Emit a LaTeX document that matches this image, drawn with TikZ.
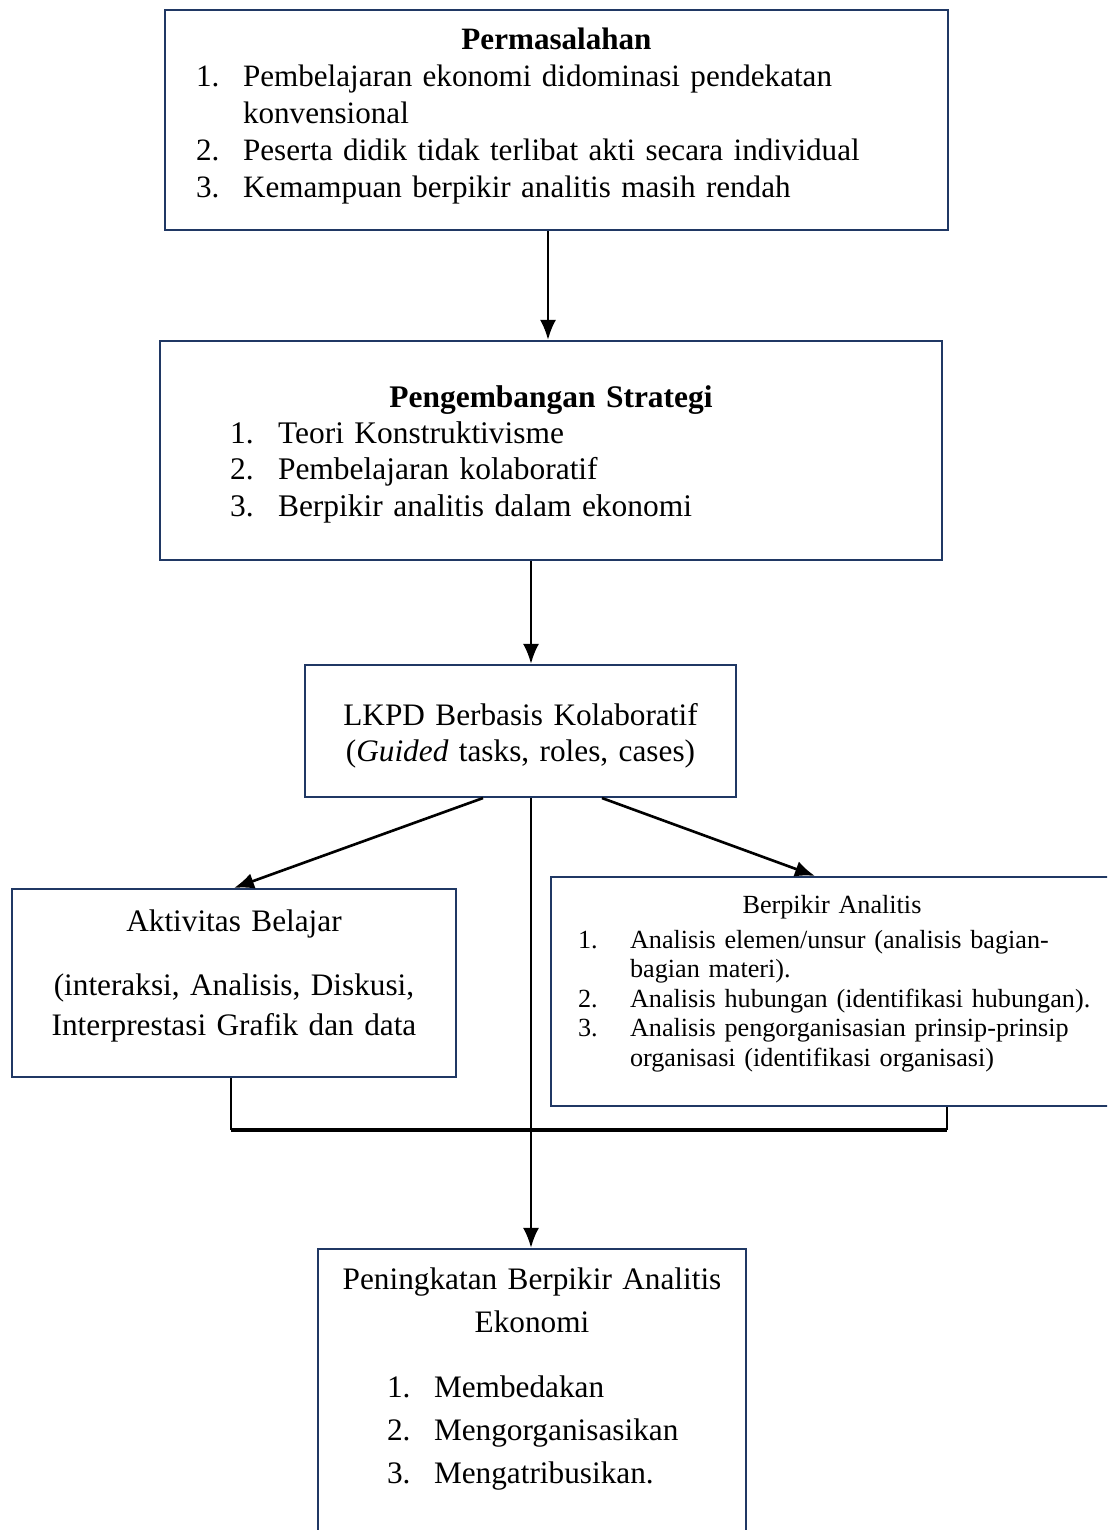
\documentclass[tikz,border=0pt]{standalone}
\usepackage{fontspec}
\setmainfont{Liberation Serif}
\usepackage{xcolor}
\usetikzlibrary{arrows.meta,positioning,calc}
\definecolor{boxblue}{HTML}{203864}

\begin{document}
\begin{tikzpicture}[x=0.02cm,y=-0.02cm,
    box/.style={draw=boxblue, line width=1.2pt, rectangle, inner ysep=0pt, anchor=base},
    arr/.style={-{Latex[length=4mm,width=3.2mm]}, line width=1.5pt},
    link/.style={line width=1.5pt},
    bar/.style={line width=2.6pt}]
    \useasboundingbox (0,0) rectangle (1107,1530);
    \clip (0,0) rectangle (1107,1530);

    % boxes
    \node[box, text width=14.42cm, inner xsep=0.62cm, align=left, text height=0.8cm, text depth=3.6cm,
          font=\fontsize{17.7}{21}\selectfont] (masalah) at (556.5,50)
        {\makebox[\hsize]{\textbf{Permasalahan}}\\
         \makebox[0.94cm][l]{1.}Pembelajaran ekonomi didominasi pendekatan\\
         \hspace*{0.94cm}konvensional\\
         \makebox[0.94cm][l]{2.}Peserta didik tidak terlibat akti secara individual\\
         \makebox[0.94cm][l]{3.}Kemampuan berpikir analitis masih rendah};
    \node[box, text width=12.84cm, inner xsep=1.4cm, align=left, text height=1.32cm, text depth=3.06cm,
          font=\fontsize{17.9}{20.7}\selectfont] (strategi) at (551,407)
        {\makebox[\hsize]{\textbf{Pengembangan Strategi}}\\
         \makebox[0.96cm][l]{1.}Teori Konstruktivisme\\
         \makebox[0.96cm][l]{2.}Pembelajaran kolaboratif\\
         \makebox[0.96cm][l]{3.}Berpikir analitis dalam ekonomi};
    \node[box, text width=8.02cm, inner xsep=0.3cm, align=center, text height=1.2cm, text depth=1.44cm,
          font=\fontsize{17.8}{20.5}\selectfont] (lkpd) at (520.5,725)
        {LKPD Berbasis Kolaboratif\\(\textit{Guided} tasks, roles, cases)};
    \node[box, text width=8.28cm, inner xsep=0.3cm, align=center, text height=0.84cm, text depth=2.92cm,
          font=\fontsize{17.8}{22.8}\selectfont] (aktivitas) at (234,931)
        {Aktivitas Belajar\\[0.48cm]
         (interaksi, Analisis, Diskusi,\\Interprestasi Grafik dan data};
    \node[box, text width=10.16cm, inner xsep=0.54cm, align=left, text height=0.72cm, text depth=3.86cm,
          font=\fontsize{14.9}{16.8}\selectfont] (analitis) at (832,913)
        {\makebox[\hsize]{Berpikir Analitis}\\[0.11cm]
         \makebox[1.04cm][l]{1.}\mbox{Analisis elemen/unsur (analisis bagian-}\\
         \hspace*{1.04cm}bagian materi).\\
         \makebox[1.04cm][l]{2.}\mbox{Analisis hubungan (identifikasi hubungan).}\\
         \makebox[1.04cm][l]{3.}\mbox{Analisis pengorganisasian prinsip-prinsip}\\
         \hspace*{1.04cm}\mbox{organisasi (identifikasi organisasi)}};
    \node[box, text width=5.8cm, inner xsep=1.38cm, align=left, text height=0.8cm, text depth=5.12cm,
          font=\fontsize{17.8}{24.5}\selectfont] (peningkatan) at (532,1289)
        {\makebox[\hsize]{Peningkatan Berpikir Analitis}\\
         \makebox[\hsize]{Ekonomi}\\[0.44cm]
         \makebox[0.94cm][l]{1.}Membedakan\\
         \makebox[0.94cm][l]{2.}Mengorganisasikan\\
         \makebox[0.94cm][l]{3.}Mengatribusikan.};

    \coordinate (spine) at ([xshift=0.21cm]lkpd.north);
    \coordinate (merge) at (531,1130);

    % connectors
    \draw[arr] ([xshift=-0.17cm]masalah.south) -- ([xshift=-0.17cm]masalah.south |- strategi.north);
    \draw[arr] (strategi.south -| spine) -- (spine);
    \draw[arr] ([xshift=-0.75cm]lkpd.south) -- (aktivitas.north);
    \draw[arr] ([xshift=1.63cm]lkpd.south) -- ([xshift=-0.34cm]analitis.north);
    \draw[link] ([xshift=-0.06cm]aktivitas.south) -- ([xshift=-0.06cm]aktivitas.south |- merge);
    \draw[link] ([xshift=2.3cm]analitis.south) -- ([xshift=2.3cm]analitis.south |- merge);
    \draw[bar] ([xshift=-0.06cm]aktivitas.south |- merge) -- ([xshift=2.3cm]analitis.south |- merge);
    \draw[arr] (lkpd.south -| spine) -- (peningkatan.north -| spine);
\end{tikzpicture}
\end{document}
